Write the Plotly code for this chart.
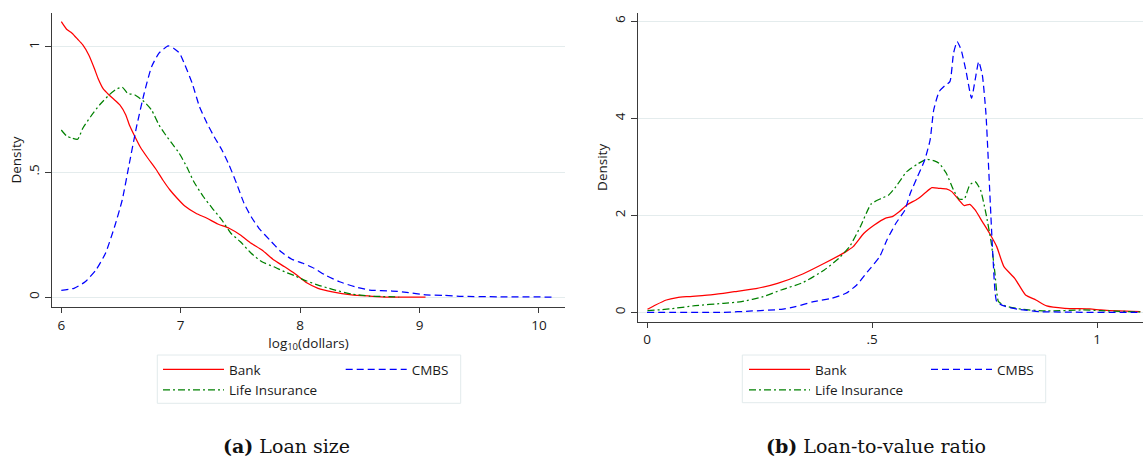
import plotly.graph_objects as go

W, H = 1143, 459

# ---------------- Panel (a): loan size, log10(dollars) ----------------
size_bank_x = [6.0, 6.044, 6.09, 6.137, 6.18, 6.23, 6.276, 6.307, 6.353, 6.40, 6.446, 6.49, 6.54, 6.57,
               6.617, 6.66, 6.725, 6.787, 6.85, 6.91, 6.97, 7.034, 7.127, 7.22, 7.31, 7.405, 7.5, 7.59,
               7.68, 7.78, 7.87, 7.96, 8.055, 8.15, 8.27, 8.43, 8.58, 8.74, 9.05]
size_bank_y = [1.101, 1.071, 1.055, 1.031, 1.008, 0.968, 0.915, 0.875, 0.831, 0.808, 0.788, 0.768, 0.728, 0.688,
               0.641, 0.601, 0.555, 0.515, 0.468, 0.428, 0.395, 0.364, 0.335, 0.315, 0.292, 0.275, 0.248, 0.215,
               0.188, 0.148, 0.121, 0.092, 0.057, 0.035, 0.021, 0.009, 0.004, 0.0, 0.0]

size_cmbs_x = [6.0, 6.106, 6.2, 6.29, 6.37, 6.446, 6.51, 6.57, 6.63, 6.694, 6.756, 6.818, 6.895, 6.94, 6.99,
               7.035, 7.096, 7.157, 7.22, 7.28, 7.345, 7.405, 7.467, 7.53, 7.59, 7.655, 7.746, 7.84, 7.93,
               8.024, 8.117, 8.21, 8.33, 8.46, 8.58, 8.77, 8.89, 9.05, 9.2, 9.35, 9.66, 10.13]
size_cmbs_y = [0.027, 0.035, 0.061, 0.108, 0.175, 0.281, 0.388, 0.535, 0.681, 0.815, 0.921, 0.975, 1.004, 0.995, 0.975,
               0.928, 0.855, 0.761, 0.695, 0.641, 0.588, 0.528, 0.455, 0.375, 0.321, 0.275, 0.228, 0.181, 0.151,
               0.135, 0.115, 0.088, 0.061, 0.041, 0.028, 0.024, 0.019, 0.009, 0.007, 0.003, 0.001, 0.0]

size_life_x = [6.0, 6.044, 6.09, 6.137, 6.18, 6.245, 6.32, 6.40, 6.46, 6.51, 6.555, 6.617, 6.694, 6.756, 6.818,
               6.864, 6.925, 6.987, 7.05, 7.11, 7.19, 7.265, 7.345, 7.42, 7.5, 7.59, 7.68, 7.78, 7.87, 7.96,
               8.055, 8.15, 8.27, 8.43, 8.58, 8.83]
size_life_y = [0.668, 0.644, 0.635, 0.631, 0.675, 0.721, 0.768, 0.808, 0.831, 0.839, 0.815, 0.808, 0.781, 0.748, 0.688,
               0.655, 0.615, 0.575, 0.521, 0.461, 0.401, 0.355, 0.308, 0.255, 0.221, 0.175, 0.141, 0.121, 0.101, 0.084,
               0.064, 0.048, 0.031, 0.012, 0.004, 0.0]

size_xticks = [6, 7, 8, 9, 10]
size_xticktext = ["6", "7", "8", "9", "10"]
size_yticks = [0, 0.5, 1]
size_yticktext = ["0", ".5", "1"]

# ---------------- Panel (b): loan-to-value ratio ----------------
ltv_bank_x = [0.001, 0.019, 0.043, 0.067, 0.09, 0.146, 0.194, 0.242, 0.29, 0.346, 0.394, 0.442, 0.458, 0.482,
              0.505, 0.529, 0.545, 0.561, 0.577, 0.601, 0.617, 0.633, 0.649, 0.665, 0.677, 0.693, 0.705, 0.717,
              0.729, 0.745, 0.761, 0.777, 0.793, 0.817, 0.841, 0.864, 0.888, 0.928, 0.984, 1.008, 1.048, 1.096]
ltv_bank_y = [0.062, 0.151, 0.254, 0.302, 0.323, 0.364, 0.426, 0.488, 0.598, 0.79, 1.01, 1.251, 1.354, 1.629,
              1.80, 1.938, 1.973, 2.076, 2.213, 2.337, 2.454, 2.57, 2.557, 2.543, 2.488, 2.316, 2.199, 2.227,
              2.11, 1.869, 1.629, 1.354, 0.942, 0.701, 0.357, 0.254, 0.131, 0.082, 0.069, 0.048, 0.027, 0.014]

ltv_cmbs_x = [0.0, 0.17, 0.234, 0.298, 0.33, 0.37, 0.41, 0.442, 0.466, 0.49, 0.517, 0.533, 0.553, 0.573, 0.585,
              0.601, 0.617, 0.629, 0.637, 0.649, 0.661, 0.673, 0.681, 0.689, 0.698, 0.709, 0.721, 0.729, 0.737,
              0.745, 0.753, 0.761, 0.769, 0.777, 0.793, 0.825, 0.872, 0.968, 1.096]
ltv_cmbs_y = [0.0, 0.0, 0.027, 0.062, 0.117, 0.22, 0.289, 0.392, 0.564, 0.838, 1.148, 1.491, 1.835, 2.11, 2.454,
              2.797, 3.141, 3.553, 4.172, 4.55, 4.667, 4.756, 5.34, 5.581, 5.409, 4.962, 4.412, 4.79, 5.168,
              4.893, 4.103, 2.591, 1.079, 0.22, 0.131, 0.062, 0.014, 0.0, 0.0]

ltv_life_x = [0.001, 0.05, 0.107, 0.17, 0.21, 0.258, 0.298, 0.346, 0.394, 0.426, 0.45, 0.474, 0.498, 0.521, 0.537,
              0.553, 0.577, 0.601, 0.621, 0.637, 0.649, 0.665, 0.681, 0.693, 0.705, 0.717, 0.729, 0.741, 0.753,
              0.765, 0.773, 0.781, 0.797, 0.833, 0.889, 0.968, 1.008, 1.096]
ltv_life_y = [0.034, 0.069, 0.137, 0.186, 0.22, 0.323, 0.46, 0.612, 0.873, 1.113, 1.354, 1.766, 2.234, 2.35, 2.419,
              2.591, 2.9, 3.058, 3.155, 3.127, 3.072, 2.866, 2.522, 2.337, 2.337, 2.625, 2.694, 2.522, 2.041,
              1.423, 0.804, 0.22, 0.131, 0.062, 0.027, 0.048, 0.034, 0.007]

ltv_xticks = [0, 0.5, 1]
ltv_xticktext = ["0", ".5", "1"]
ltv_yticks = [0, 2, 4, 6]
ltv_yticktext = ["0", "2", "4", "6"]

series_names = ["Bank", "CMBS", "Life Insurance"]

# ---------------- styling ----------------
FONT = "Open Sans"
FS = 13.5
TXT = "#1a1a1a"
AXC = "#3a3a3a"
GRID = "#e4eced"
RED, BLUE, GREEN = "#ff0000", "#0000ff", "#008000"
DASH_CMBS = "7px,4px"
DASH_LIFE = "7px,3px,2px,3px"


def px(x):
    return x / W


def py(y):
    return 1 - y / H


fig = go.Figure()


def add(x, y, name, color, dash, xa, ya, legend, group):
    fig.add_trace(go.Scatter(
        x=x, y=y, mode="lines", name=name, xaxis=xa, yaxis=ya,
        line=dict(color=color, width=1.25, dash=dash, shape="spline", smoothing=0.5),
        legend=legend, legendgroup=group, hoverinfo="skip"))


add(size_bank_x, size_bank_y, series_names[0], RED, "solid", "x", "y", "legend", "a1")
add(size_life_x, size_life_y, series_names[2], GREEN, DASH_LIFE, "x", "y", "legend", "a2")
add(size_cmbs_x, size_cmbs_y, series_names[1], BLUE, DASH_CMBS, "x", "y", "legend2", "a3")

add(ltv_bank_x, ltv_bank_y, series_names[0], RED, "solid", "x2", "y2", "legend3", "b1")
add(ltv_life_x, ltv_life_y, series_names[2], GREEN, DASH_LIFE, "x2", "y2", "legend3", "b2")
add(ltv_cmbs_x, ltv_cmbs_y, series_names[1], BLUE, DASH_CMBS, "x2", "y2", "legend4", "b3")

tickfont = dict(family=FONT, size=FS, color=TXT)


def xaxis(domain, rng, tv, tt, title=None):
    d = dict(domain=domain, range=rng, tickmode="array", tickvals=tv, ticktext=tt,
             showline=True, linecolor=AXC, linewidth=1.3, ticks="outside", ticklen=5,
             tickwidth=1, tickcolor=AXC, showgrid=False, zeroline=False, tickfont=tickfont,
             fixedrange=True)
    if title:
        d["title"] = dict(text=title, font=dict(family=FONT, size=FS, color=TXT), standoff=0)
    return d


def yaxis(domain, rng, tv, tt, anchor):
    return dict(domain=domain, range=rng, tickmode="array", tickvals=tv, ticktext=tt,
                showline=True, linecolor=AXC, linewidth=1.3, ticks="outside", ticklen=6,
                tickwidth=1, tickcolor=AXC, showgrid=True, gridcolor=GRID, gridwidth=1,
                zeroline=False, tickangle=-90, tickfont=tickfont, anchor=anchor,
                title=dict(text="Density", font=dict(family=FONT, size=FS, color=TXT), standoff=0),
                fixedrange=True)


legfont = dict(family=FONT, size=FS, color=TXT)


def legend(x, y):
    return dict(x=px(x), y=py(y), xref="paper", yref="paper", xanchor="left", yanchor="top",
                orientation="v", bgcolor="rgba(0,0,0,0)", borderwidth=0, font=legfont,
                itemwidth=61, traceorder="grouped", tracegroupgap=0, itemclick=False,
                itemdoubleclick=False)


fig.update_layout(
    width=W, height=H, margin=dict(l=0, r=0, t=0, b=0),
    paper_bgcolor="white", plot_bgcolor="white",
    xaxis=xaxis([px(52), px(565)], [5.922, 10.218], size_xticks, size_xticktext,
                "log<sub>10</sub>(dollars)"),
    yaxis=yaxis([py(307.3), py(12.7)], [-0.041, 1.137], size_yticks, size_yticktext, "x"),
    xaxis2=xaxis([px(637.7), 1.0], [-0.0207, 1.102], ltv_xticks, ltv_xticktext),
    yaxis2=yaxis([py(322), py(12.7)], [-0.2, 6.177], ltv_yticks, ltv_yticktext, "x2"),
    legend=legend(158, 354),
    legend2=legend(340.7, 354),
    legend3=legend(744, 354),
    legend4=legend(926, 354),
    showlegend=True,
)
fig.update_layout(xaxis=dict(anchor="y"), xaxis2=dict(anchor="y2"))

# legend frames
for (x0, y0, x1, y1) in [(157.3, 355, 460.7, 403.3), (742.3, 355, 1045.7, 402.7)]:
    fig.add_shape(type="rect", xref="paper", yref="paper", x0=px(x0), x1=px(x1),
                  y0=py(y1), y1=py(y0), line=dict(color="#e2eaec", width=1), layer="below")

# panel captions
for (cx, text) in [(286.3, "<b>(a)</b> Loan size"), (875.6, "<b>(b)</b> Loan-to-value ratio")]:
    fig.add_annotation(x=px(cx), y=py(446), xref="paper", yref="paper", text=text,
                       showarrow=False, xanchor="center", yanchor="middle",
                       font=dict(family="DejaVu Serif", size=19, color="#111111"))

fig.write_html("out.html", config={"displayModeBar": False},
               post_script="document.body.style.margin='0';document.body.style.overflow='hidden';")
